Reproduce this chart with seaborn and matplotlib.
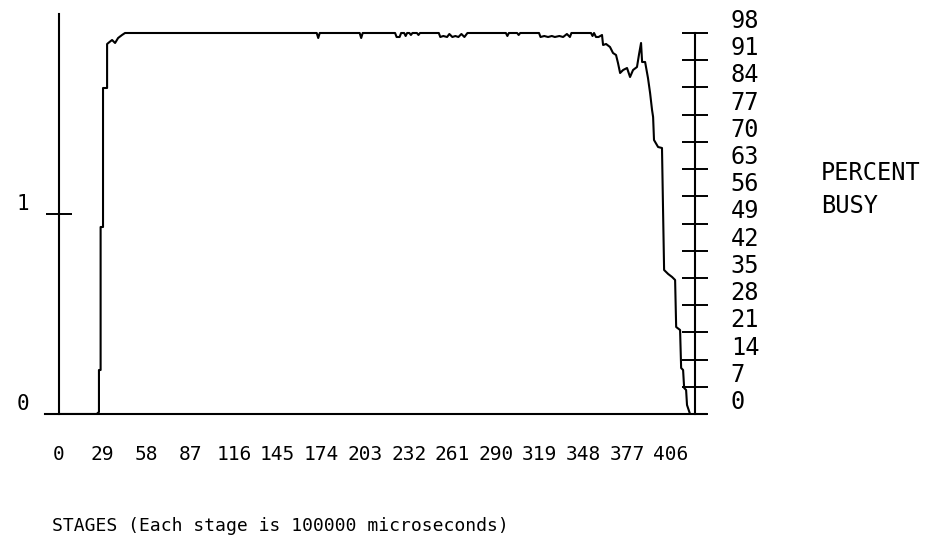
import matplotlib
matplotlib.use("Agg")
import matplotlib.pyplot as plt
import seaborn as sns
import pandas as pd

# ---- data ----
stages = [0, 25, 26.5, 26.5, 27.6, 27.6, 29.2, 29.2, 31.9, 31.9, 33.5, 35.2, 37.2, 39.2, 41.8, 43.8,
          171, 172, 173, 199.5, 200.5, 201.5, 223, 224, 226, 227, 229, 230, 231, 232.5, 233.5, 234.5,
          237.5, 238.5, 239.5, 252, 253, 255, 257.5, 259, 261, 263, 265, 267, 269, 271,
          296.5, 297.5, 298.5, 304, 305, 306, 318.5, 319.5, 322, 324.5, 327, 329, 332, 334.5, 337, 339, 340,
          353, 354, 355, 356.3, 358, 360.3, 361, 363, 365.6, 367.6, 369.6, 370.9, 372.3, 374.3, 376.9,
          378.9, 380.9, 383.5, 384.9, 386.2, 386.9, 388.9, 390.8, 392.2, 393.5, 394.2, 394.8, 397.5,
          400.1, 400.8, 401.5, 404.2, 406.8, 408.8, 409.5, 412.1, 412.8, 414.1, 414.8, 416.1, 416.7, 418.7]
busy = [0.0, 0.0, 0.01, 0.22, 0.22, 0.935, 0.935, 1.63, 1.63, 1.85, 1.86, 1.87, 1.855, 1.88, 1.895, 1.905,
        1.905, 1.88, 1.905, 1.905, 1.88, 1.905, 1.905, 1.885, 1.885, 1.905, 1.905, 1.89, 1.905, 1.905, 1.895, 1.905,
        1.905, 1.895, 1.905, 1.905, 1.885, 1.89, 1.885, 1.9, 1.885, 1.89, 1.885, 1.9, 1.885, 1.905,
        1.905, 1.89, 1.905, 1.905, 1.895, 1.905, 1.905, 1.885, 1.89, 1.885, 1.89, 1.885, 1.89, 1.885, 1.9, 1.885, 1.905,
        1.905, 1.89, 1.905, 1.885, 1.885, 1.895, 1.845, 1.85, 1.835, 1.805, 1.795, 1.755, 1.705, 1.72, 1.73,
        1.685, 1.72, 1.735, 1.80, 1.855, 1.76, 1.76, 1.68, 1.605, 1.52, 1.485, 1.37, 1.335,
        1.33, 1.02, 0.72, 0.70, 0.685, 0.67, 0.435, 0.42, 0.23, 0.22, 0.13, 0.12, 0.045, 0.0]

x_ticks = [0, 29, 58, 87, 116, 145, 174, 203, 232, 261, 290, 319, 348, 377, 406]
x_labels = ["0", "29", "58", "87", "116", "145", "174", "203", "232", "261", "290", "319", "348", "377", "406"]
left_ticks = [0, 1]
left_labels = ["0", "1"]
pct_ticks = [0, 7, 14, 21, 28, 35, 42, 49, 56, 63, 70, 77, 84, 91, 98]
pct_labels = ["0", "7", "14", "21", "28", "35", "42", "49", "56", "63", "70", "77", "84", "91", "98"]
x_title = "STAGES (Each stage is 100000 microseconds)"
right_title = ["PERCENT", "BUSY"]

# ---- drawing ----
sns.set_style("white")
plt.rcParams["font.family"] = ["DejaVu Sans Mono", "DejaVu Sans"]
plt.rcParams["text.color"] = "black"

W, H = 927, 542
fig = plt.figure(figsize=(W / 100, H / 100), dpi=100)
ax = fig.add_axes([45 / W, (H - 414) / H, 661 / W, 400 / H])

df = pd.DataFrame({"stage": stages, "busy": busy})
sns.lineplot(data=df, x="stage", y="busy", estimator=None, sort=False,
             color="black", linewidth=1.5, ax=ax)

ax.set_xlim(-9.3, 429.3)
ax.set_ylim(0, 2.0)
ax.set_xlabel("")
ax.set_ylabel("")

for s in ["top", "right"]:
    ax.spines[s].set_visible(False)
ax.spines["left"].set_position(("data", 0))
for s in ["left", "bottom"]:
    ax.spines[s].set_color("black")
    ax.spines[s].set_linewidth(1.5)

ax.set_xticks(x_ticks)
ax.set_xticklabels(x_labels)
ax.tick_params(axis="x", direction="inout", length=17.3, width=1.4, pad=14,
               labelsize=14, colors="black")
ax.set_yticks(left_ticks)
ax.set_yticklabels(left_labels)
ax.tick_params(axis="y", direction="inout", length=18.7, width=1.4, pad=12,
               labelsize=15, colors="black")
for lab in ax.get_yticklabels():
    lab.set_va("bottom")

ax2 = ax.twinx()
ax2.set_ylim(0, 98 * 400 / 381)
for s in ["top", "left", "bottom"]:
    ax2.spines[s].set_visible(False)
ax2.spines["right"].set_position(("data", 422.0))
ax2.spines["right"].set_bounds(0, 98)
ax2.spines["right"].set_color("black")
ax2.spines["right"].set_linewidth(1.5)
ax2.set_yticks(pct_ticks)
ax2.set_yticklabels(pct_labels)
ax2.tick_params(axis="y", direction="inout", length=19.4, width=1.4, pad=16,
                labelsize=17, colors="black")
for lab in ax2.get_yticklabels():
    lab.set_va("bottom")

fig.text(821 / W, 1 - 180 / H, right_title[0], fontsize=17, va="baseline", ha="left", color="black")
fig.text(821 / W, 1 - 213 / H, right_title[1], fontsize=17, va="baseline", ha="left", color="black")
fig.text(52 / W, 1 - 531 / H, x_title, fontsize=13, va="baseline", ha="left", color="black")

fig.savefig("out.png", dpi=100, facecolor="white")
